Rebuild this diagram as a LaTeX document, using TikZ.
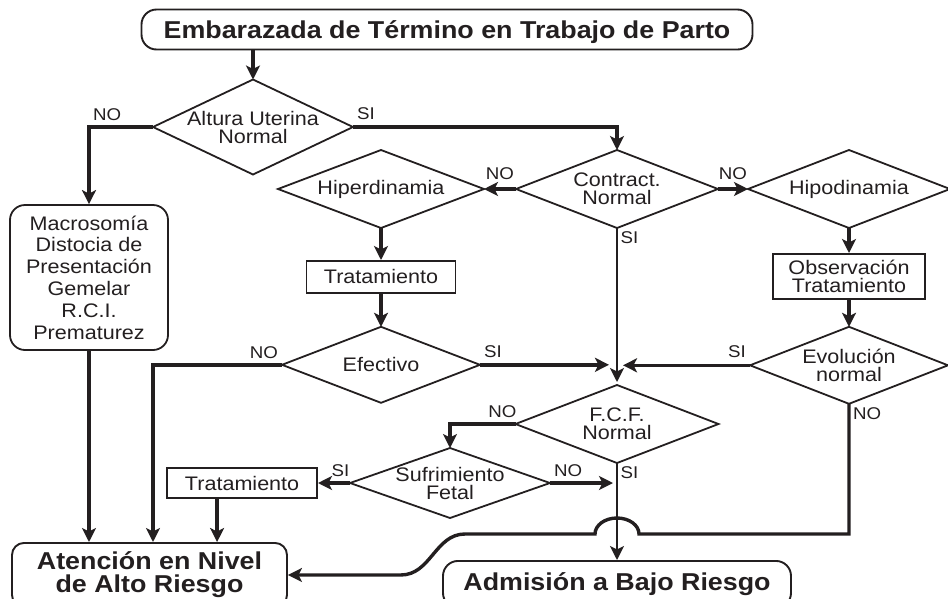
\documentclass[tikz,border=0pt]{standalone}
\usepackage{fontspec}
\setmainfont{Liberation Sans}[FakeStretch=1.1]
\usetikzlibrary{shapes.geometric, arrows.meta, positioning}

\definecolor{ink}{HTML}{231F20}
\newcommand{\txtfont}{\fontsize{19.6}{18}\selectfont}
\newcommand{\hdfont}{\fontsize{24.4}{23}\selectfont\bfseries}
\newcommand{\lblfont}{\fontsize{17}{16}\selectfont}

\begin{document}
\begin{tikzpicture}[
    x=1pt, y=-1pt,
    every node/.style={text=ink},
    terminal/.style={rectangle, draw=ink, line width=1.9pt, rounded corners=15pt, align=center, font=\hdfont},
    block/.style={rectangle, draw=ink, line width=1.8pt, align=center, font=\txtfont, inner sep=0pt},
    decision/.style={diamond, draw=ink, line width=1.8pt, aspect=2.5, inner sep=-5pt, outer sep=0pt, align=center, font=\txtfont},
    lbl/.style={font=\lblfont, inner sep=2.5pt},
    arrow/.style={-{Stealth[length=14pt, width=14pt, inset=3.5pt]}, draw=ink, line width=3.4pt},
    thinarrow/.style={arrow, line width=2.4pt}
]
    \useasboundingbox (0,0) rectangle (948,598);

    \node[terminal, minimum width=611pt, minimum height=40pt, inner ysep=0pt, text depth=0pt] (start) at (447,29.5) {Embarazada de Término en Trabajo de Parto};
    \node[decision, aspect=2.1, minimum width=200pt, minimum height=95pt] (alt) at (253,127) {Altura Uterina\\Normal};
    \node[block, rounded corners=15pt, minimum width=158pt, minimum height=145pt, font=\fontsize{19.6}{21.8}\selectfont] (macro) at (89,277.5) {Macrosomía\\Distocia de\\Presentación\\Gemelar\\R.C.I.\\Prematurez};
    \node[decision, minimum width=202pt, minimum height=78pt] (contr) at (617,189) {Contract.\\Normal};
    \node[decision, minimum width=206pt, minimum height=78pt, left=32pt of contr] (hiper) {Hiperdinamia};
    \node[decision, minimum width=202pt, minimum height=78pt, right=30pt of contr] (hipo) {Hipodinamia};
    \node[block, minimum width=149pt, minimum height=32pt, below=32pt of hiper] (trat1) {Tratamiento};
    \node[decision, minimum width=198pt, minimum height=76pt, below=33pt of trat1] (efect) {Efectivo};
    \node[block, minimum width=152pt, minimum height=45pt, below=25pt of hipo] (obs) {Observación\\Tratamiento};
    \node[decision, minimum width=198pt, minimum height=77pt, below=27pt of obs] (evol) {Evolución\\normal};
    \node[decision, minimum width=203pt, minimum height=78pt, below=157pt of contr] (fcf) {F.C.F.\\Normal};
    \node[decision, aspect=2.86, minimum width=200pt, minimum height=70pt] (sufr) at (450,483) {Sufrimiento\\Fetal};
    \node[block, minimum width=150pt, minimum height=30pt, left=32pt of sufr] (trat2) {Tratamiento};
    \node[terminal, rounded corners=12pt, minimum width=275pt, inner ysep=9pt, anchor=north] (aten) at (149.5,542) {Atención en Nivel\\de Alto Riesgo};
    \node[terminal, minimum width=348pt, inner ysep=12pt, below=97pt of fcf] (admis) {Admisión a Bajo Riesgo};

    % main line
    \draw[arrow] (start.south -| alt.north) -- (alt.north);
    \draw[arrow] (alt.west) -| node[lbl, above right, pos=0.5, yshift=2pt] {NO} (macro.north);
    \draw[arrow] (alt.east) -| node[lbl, above right, pos=0, yshift=3pt] {SI} (contr.north);
    \draw[arrow] (contr.west) -- node[lbl, above=5pt] {NO} (hiper.east);
    \draw[arrow] (contr.east) -- node[lbl, above=5pt] {NO} (hipo.west);
    \draw[arrow] (hiper.south) -- (trat1.north);
    \draw[arrow] (trat1.south) -- (efect.north);
    \draw[arrow] (hipo.south) -- (obs.north);
    \draw[arrow] (obs.south) -- (evol.north);
    \draw[thinarrow, shorten >=3pt] (contr.south) -- node[lbl, below right, pos=0] {SI} (fcf.north);
    \draw[arrow, shorten >=8pt] (efect.east) -- node[lbl, above right, pos=0, yshift=3pt] {SI} (efect.east -| contr.south);
    \draw[arrow, shorten >=6pt] (evol.west) -- node[lbl, above left, pos=0, yshift=3pt] {SI} (evol.west -| contr.south);

    % high risk side
    \draw[arrow] (efect.west) -| node[lbl, above left, pos=0, yshift=2pt] {NO} ([xshift=3.5pt]aten.north);
    \draw[arrow] (macro.south) -- (macro.south |- aten.north);
    \draw[arrow] (fcf.west) -| node[lbl, above, pos=0.1, yshift=2pt] {NO} (sufr.north);
    \draw[arrow] (sufr.west) -- node[lbl, above, pos=0.3, yshift=2pt] {SI} (trat2.east);
    \draw[arrow, shorten >=4pt] (sufr.east) -- node[lbl, above right, pos=0, yshift=2pt] {NO} (sufr.east -| fcf.south);
    \coordinate (t2out) at ([xshift=-25pt]trat2.south);
    \draw[arrow] (t2out) -- (t2out |- aten.north);
    \draw[thinarrow] (fcf.south) -- node[lbl, below right, pos=0] {SI} (admis.north);

    % evolution NO, jumping the SI line
    \coordinate[above=26pt of admis.north] (hop);
    \draw[arrow] (evol.south) |- node[lbl, below right, pos=0] {NO} ([xshift=22pt]hop)
        arc[start angle=0, end angle=180, x radius=22pt, y radius=16pt]
        -- ++(-130,0) to[out=180, in=0] ([xshift=113pt]aten.east) -- (aten.east);
\end{tikzpicture}
\end{document}
